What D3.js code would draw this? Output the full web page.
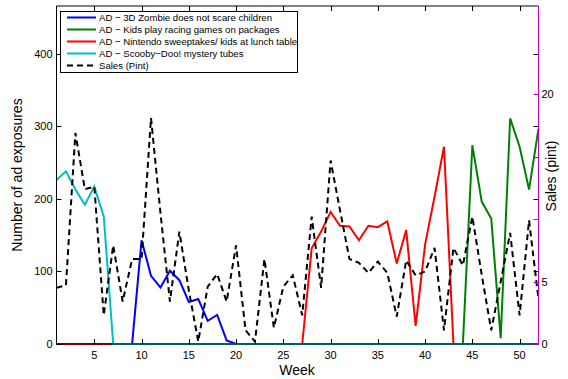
<!DOCTYPE html>
<html><head><meta charset="utf-8">
<script src="https://cdn.jsdelivr.net/npm/d3@7"></script>
<style>body{margin:0;background:#fff}svg{display:block}text{font-family:"Liberation Sans",Arial,sans-serif}</style>
</head><body><svg id="c" width="568" height="379"></svg>
<script>
const weeks = d3.range(1, 53);
const zombie = [0,0,0,0,0,0,0,0,0,143,94,78,101,88,58,62,32,40,5,0,0,0,0,0,0,0,0,0,0,0,0,0,0,0,0,0,0,0,0,0,0,0,0,0,0,0,0,0,0,0,0,0];
const racing = [0,0,0,0,0,0,0,0,0,0,0,0,0,0,0,0,0,0,0,0,0,0,0,0,0,0,0,0,0,0,0,0,0,0,0,0,0,0,0,0,0,0,0,0,274,196,173,8,311,272,213,297];
const nintendo = [0,0,0,0,0,0,0,0,0,0,0,0,0,0,0,0,0,0,0,0,0,0,0,0,0,0,0,132,155,182,163,162,143,163,161,169,111,157,25,137,203,272,0,0,0,0,0,0,0,0,0,0];
const scooby = [226,238,213,192,217,176,0,0,0,0,0,0,0,0,0,0,0,0,0,0,0,0,0,0,0,0,0,0,0,0,0,0,0,0,0,0,0,0,0,0,0,0,0,0,0,0,0,0,0,0,0,0];
const sales = [4.5,4.7,16.9,12.4,12.6,2.3,7.9,3.4,6.8,6.8,18.1,10.5,3.4,9.0,4.3,0.2,4.6,5.6,3.4,7.9,1.1,0.2,6.8,1.3,4.6,5.5,2.3,10.2,4.5,14.7,10.7,6.8,6.5,5.7,6.6,5.7,2.2,6.7,5.5,5.8,7.7,1.1,7.7,6.3,10.2,5.5,1.1,5.0,8.9,2.3,9.9,3.6];
const seriesNames = ["AD − 3D Zombie does not scare children","AD − Kids play racing games on packages","AD − Nintendo sweeptakes/ kids at lunch table","AD − Scooby−Doo! mystery tubes","Sales (Pint)"];
const seriesColors = ["#0000ff","#008000","#ff0000","#00bfbf","#000000"];
const xTicks = [5,10,15,20,25,30,35,40,45,50];
const leftTicks = [0,100,200,300,400];
const rightTicks = [0,5,10,15,20];
const rightLabeled = [0,5,20];

const svg = d3.select("#c");
const L = 56.5, R = 538.5, T = 6, B = 344;
const x = d3.scaleLinear().domain([1,52]).range([L,R]);
const yL = d3.scaleLinear().domain([0,466]).range([B,T]);
const yR = d3.scaleLinear().domain([0,27.07]).range([B,T]);

const adSeries = [zombie, racing, nintendo, scooby];
adSeries.forEach((s,i)=>{
  svg.append("path").datum(s)
    .attr("d", d3.line().x((d,j)=>x(weeks[j])).y(d=>yL(d)))
    .attr("fill","none").attr("stroke",seriesColors[i]).attr("stroke-width",2).attr("stroke-linejoin","miter");
});
svg.append("path").datum(sales)
  .attr("d", d3.line().x((d,j)=>x(weeks[j])).y(d=>yR(d)))
  .attr("fill","none").attr("stroke","#000").attr("stroke-width",2).attr("stroke-dasharray","6,4");

// axes
const tickLen = 5;
const g = svg.append("g").attr("font-size","11px");
g.append("line").attr("x1",L).attr("x2",R).attr("y1",T).attr("y2",T).attr("stroke","#000");
g.append("line").attr("x1",L).attr("x2",R).attr("y1",B).attr("y2",B).attr("stroke","#000");
g.append("line").attr("x1",L).attr("x2",L).attr("y1",T).attr("y2",B).attr("stroke","#000");
xTicks.forEach(t=>{
  const px = Math.round(x(t))+0.5;
  g.append("line").attr("x1",px).attr("x2",px).attr("y1",B).attr("y2",B-tickLen).attr("stroke","#000");
  g.append("line").attr("x1",px).attr("x2",px).attr("y1",T).attr("y2",T+tickLen).attr("stroke","#000");
  g.append("text").attr("x",x(t)).attr("y",B+15).attr("text-anchor","middle").text(t);
});
leftTicks.forEach(t=>{
  const py = Math.round(yL(t))+0.5;
  g.append("line").attr("x1",L).attr("x2",L+tickLen).attr("y1",py).attr("y2",py).attr("stroke","#000");
  g.append("line").attr("x1",R).attr("x2",R-tickLen).attr("y1",py).attr("y2",py).attr("stroke","#000");
  g.append("text").attr("x",L-4).attr("y",yL(t)+4).attr("text-anchor","end").text(t);
});
const mag = "#bf00bf";
g.append("line").attr("x1",R).attr("x2",R).attr("y1",T).attr("y2",B).attr("stroke",mag);
rightTicks.forEach(t=>{
  const py = Math.round(yR(t))+0.5;
  g.append("line").attr("x1",R).attr("x2",R-tickLen).attr("y1",py).attr("y2",py).attr("stroke",mag);
  if (rightLabeled.includes(t)) g.append("text").attr("x",R+3).attr("y",yR(t)+4).attr("text-anchor","start").text(t);
});
svg.append("text").attr("x",297).attr("y",375).attr("text-anchor","middle").attr("font-size","14px").text("Week");
svg.append("text").attr("transform","translate(22,175) rotate(-90)").attr("text-anchor","middle").attr("font-size","14px").text("Number of ad exposures");
svg.append("text").attr("transform","translate(556,176) rotate(-90)").attr("text-anchor","middle").attr("font-size","14px").text("Sales (pint)");

const lg = svg.append("g");
lg.append("rect").attr("x",60.5).attr("y",11.5).attr("width",237).attr("height",61).attr("fill","#fff").attr("stroke","#000");
seriesNames.forEach((n,i)=>{
  const yy = 17.5 + i*12;
  lg.append("line").attr("x1",67).attr("x2",96).attr("y1",yy).attr("y2",yy)
    .attr("stroke",seriesColors[i]).attr("stroke-width",2)
    .attr("stroke-dasharray", i===4 ? "6,4" : null);
  lg.append("text").attr("x",99).attr("y",yy+3.5).attr("font-size","9.6px").text(n);
});
</script></body></html>
